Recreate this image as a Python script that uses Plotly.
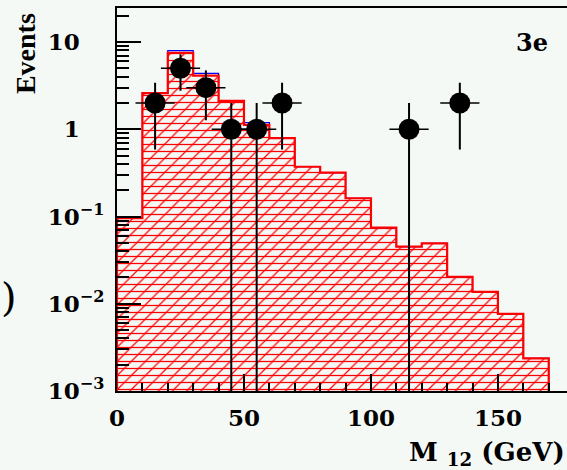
import numpy as np
import plotly.graph_objects as go

# Histogram binning (GeV)
bin_edges = list(range(0, 180, 10))
bin_centers = [e + 5 for e in bin_edges[:-1]]

# Expected events per bin: main component (red) and small extra component (blue)
main_bkg = [0.096, 2.6, 7.5, 4.13, 2.12, 1.12, 0.79, 0.372, 0.318, 0.162,
            0.0745, 0.0451, 0.0493, 0.0204, 0.0137, 0.00764, 0.00237]
other_bkg = [0.0, 0.0, 0.45, 0.24, 0.0, 0.07, 0.0, 0.0, 0.0, 0.0,
             0.0, 0.0, 0.0, 0.0, 0.0, 0.0, 0.0]

# Observed data
data_x = [15, 25, 35, 45, 55, 65, 115, 135]
data_n = [2, 5, 3, 1, 1, 2, 1, 2]

# Axis ticks
ytick_vals = [10, 1, 0.1, 0.01, 0.001]
ytick_text = ["10", "1", "10<sup>−1</sup>", "10<sup>−2</sup>", "10<sup>−3</sup>"]
xtick_vals = [0, 50, 100, 150]

BG = "#f5f9f6"
RED = "#ff0000"
FONT = "DejaVu Serif"

total_bkg = [a + b for a, b in zip(main_bkg, other_bkg)]
floor = 1e-5


def step_outline(vals):
    xs = [bin_edges[0]] + bin_edges[:-1] + [bin_edges[-1], bin_edges[-1]]
    ys = [floor] + vals + [vals[-1], floor]
    return xs, ys


fig = go.Figure()

# diagonal hatching of the main component
fig.add_trace(go.Bar(
    x=bin_centers, y=main_bkg, width=10,
    marker=dict(color="rgba(0,0,0,0)", line=dict(width=0),
                pattern=dict(shape="/", size=10, solidity=0.12,
                             fgcolor=RED, bgcolor="rgba(0,0,0,0)",
                             fillmode="replace")),
    showlegend=False, hoverinfo="skip"))

# horizontal hatching over the same area
hx, hy = step_outline(main_bkg)
fig.add_trace(go.Scatter(
    x=hx, y=hy, mode="lines", line_shape="hv",
    line=dict(width=0, color="rgba(0,0,0,0)"),
    fill="toself", fillcolor="rgba(255,255,255,0.02)",
    fillpattern=dict(shape="-", size=7, solidity=0.18, fgcolor=RED,
                     fgopacity=1, bgcolor="rgba(0,0,0,0)", fillmode="replace"),
    showlegend=False, hoverinfo="skip"))

# outlines: total (blue) below, main (red) on top
bx, by = step_outline(total_bkg)
fig.add_trace(go.Scatter(x=bx, y=by, mode="lines", line_shape="hv",
                         line=dict(color="#0000ff", width=1.2),
                         showlegend=False, hoverinfo="skip"))
rx, ry = step_outline(main_bkg)
fig.add_trace(go.Scatter(x=rx, y=ry, mode="lines", line_shape="hv",
                         line=dict(color=RED, width=2.2),
                         showlegend=False, hoverinfo="skip"))

# data points with sqrt(N) errors
err = [float(np.sqrt(n)) for n in data_n]
fig.add_trace(go.Scatter(
    x=data_x, y=data_n, mode="markers",
    marker=dict(symbol="circle", size=21, color="black"),
    error_y=dict(type="data", array=err, arrayminus=err, color="black",
                 thickness=2, width=0),
    showlegend=False))
fig.add_trace(go.Scatter(
    x=data_x, y=data_n, mode="markers",
    marker=dict(symbol="line-ew", size=28, line=dict(color="black", width=1.5)),
    showlegend=False, hoverinfo="skip"))

fig.update_layout(
    width=567, height=470,
    margin=dict(l=117, r=0, t=8, b=79),
    paper_bgcolor=BG, plot_bgcolor=BG,
    barmode="overlay", bargap=0,
    font=dict(family=FONT, color="black"),
)

fig.update_xaxes(
    range=[0, 177.2], showgrid=False, zeroline=False,
    showline=True, linecolor="black", linewidth=2, mirror=True,
    ticks="inside", ticklen=17, tickwidth=1.5, tickcolor="black",
    tickvals=xtick_vals,
    tickfont=dict(family=FONT, size=23, color="black", weight="bold"),
    ticklabelstandoff=5,
    minor=dict(dtick=10, ticks="inside", ticklen=8, tickwidth=1.5,
               tickcolor="black", showgrid=False),
)

fig.update_yaxes(
    type="log", range=[-3, 1.39], showgrid=False, zeroline=False,
    showline=True, linecolor="black", linewidth=2, mirror=False,
    ticks="inside", ticklen=24, tickwidth=1.5, tickcolor="black",
    tickvals=ytick_vals,
    ticktext=[t if "sup" in t else t + "<sup style='color:rgba(0,0,0,0)'>−1</sup>"
              for t in ytick_text],
    tickfont=dict(family=FONT, size=23, color="black", weight="bold"),
    ticklabelstandoff=6,
    minor=dict(dtick="D1", ticks="inside", ticklen=12, tickwidth=1.5,
               tickcolor="black", showgrid=False),
)

annots = [
    dict(text="<b>Events</b>", x=-0.202, y=0.88, textangle=-90,
         font=dict(family="Liberation Serif", size=28)),
    dict(text="<b>3e</b>", x=0.922, y=0.911,
         font=dict(family=FONT, size=24)),
    dict(text=")", x=-0.24, y=0.245, font=dict(family=FONT, size=40)),
    dict(text="<b>M <sub>12</sub> (GeV)</b>", x=1.0, y=-0.115,
         xanchor="right", yanchor="top", font=dict(family=FONT, size=26)),
]
for a in annots:
    a.setdefault("xanchor", "center")
    a.setdefault("yanchor", "middle")
    fig.add_annotation(xref="paper", yref="paper", showarrow=False, **a)

fig.write_html("out.html")
